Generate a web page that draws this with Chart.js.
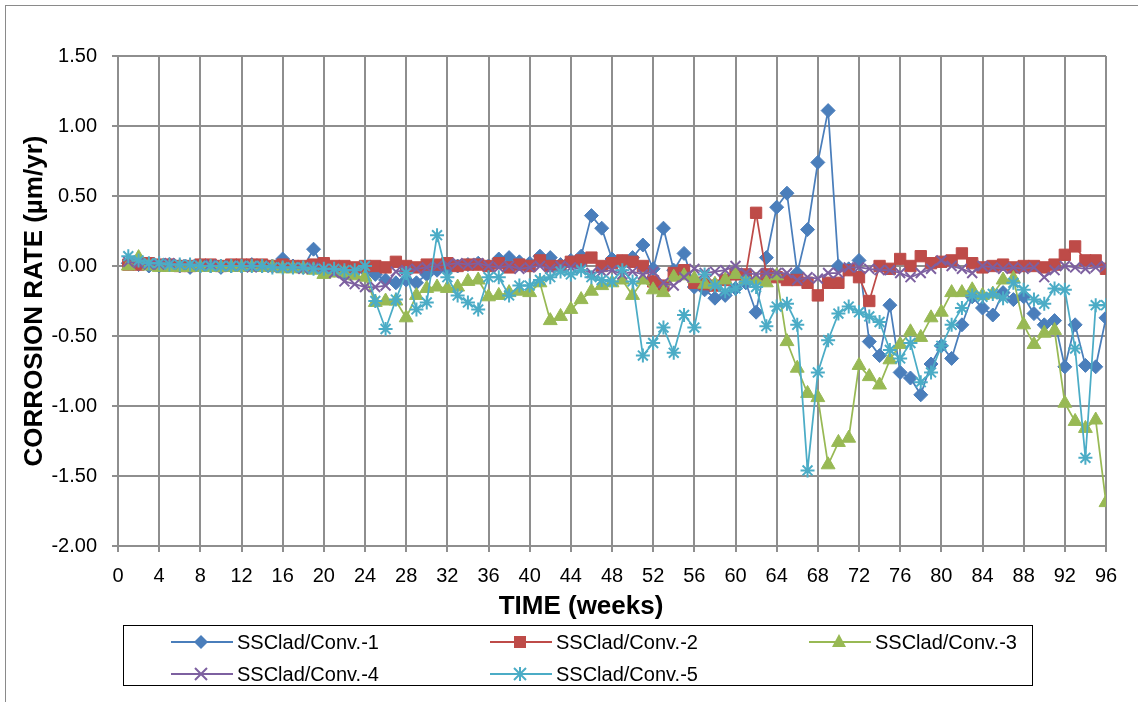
<!DOCTYPE html>
<html>
<head>
<meta charset="utf-8">
<script src="https://cdn.jsdelivr.net/npm/chart.js@4/dist/chart.umd.min.js"></script>
<style>
  body { margin: 0; background: #fff; font-family: "Liberation Sans", Arial, sans-serif; }
  #frame { position: absolute; left: 5px; top: 5px; width: 1140px; height: 720px; border: 1px solid #8a8a8a; }
  #wrap { position: absolute; left: 0; top: 0; width: 1138px; height: 702px; }
  #xtitle { position: absolute; left: 381px; width: 400px; top: 590px; text-align: center; font-size: 26px; font-weight: bold; color: #000; }
  #legend {
    position: absolute; left: 123px; top: 625px; width: 910px; height: 61px;
    border: 1.5px solid #000; box-sizing: border-box;
  }
  .item { position: absolute; display: flex; align-items: center; font-size: 20px; color: #000; height: 24px; }
  .item svg { margin-right: 4px; }
</style>
</head>
<body>
<div id="frame"></div>
<div id="wrap"><canvas id="chart" width="1138" height="702"></canvas></div>
<div id="xtitle">TIME (weeks)</div>
<div id="legend"></div>
<script>
// data (weeks, corrosion rate in um/yr)
const weeks = [1, 2, 3, 4, 5, 6, 7, 8, 9, 10, 11, 12, 13, 14, 15, 16, 17, 18, 19, 20,
  21, 22, 23, 24, 25, 26, 27, 28, 29, 30, 31, 32, 33, 34, 35, 36, 37, 38, 39, 40,
  41, 42, 43, 44, 45, 46, 47, 48, 49, 50, 51, 52, 53, 54, 55, 56, 57, 58, 59, 60,
  61, 62, 63, 64, 65, 66, 67, 68, 69, 70, 71, 72, 73, 74, 75, 76, 77, 78, 79, 80,
  81, 82, 83, 84, 85, 86, 87, 88, 89, 90, 91, 92, 93, 94, 95, 96];

const conv1 = [0.02, 0.01, 0.00, 0.00, 0.01, 0.00, -0.01, 0.00, 0.00, -0.01,
  0.00, 0.00, 0.01, 0.00, 0.00, 0.05, 0.00, -0.01, 0.12, -0.02,
  -0.03, -0.05, -0.04, -0.03, -0.06, -0.10, -0.12, -0.10, -0.12, -0.06,
  -0.03, -0.02, 0.00, 0.01, 0.02, 0.00, 0.05, 0.06, 0.03, 0.02,
  0.07, 0.06, 0.01, 0.04, 0.07, 0.36, 0.27, 0.05, 0.03, 0.06,
  0.15, -0.02, 0.27, -0.03, 0.09, -0.15, -0.17, -0.23, -0.21, -0.16,
  -0.12, -0.33, 0.06, 0.42, 0.52, -0.05, 0.26, 0.74, 1.11, 0.00,
  -0.02, 0.04, -0.54, -0.64, -0.28, -0.76, -0.80, -0.92, -0.70, -0.57,
  -0.66, -0.42, -0.22, -0.30, -0.35, -0.19, -0.24, -0.22, -0.34, -0.42,
  -0.39, -0.72, -0.42, -0.71, -0.72, -0.37];

const conv2 = [0.01, 0.01, 0.02, 0.01, 0.01, 0.00, 0.00, 0.01, 0.01, 0.00,
  0.01, 0.01, 0.01, 0.01, 0.00, 0.01, 0.00, 0.00, 0.01, 0.02,
  0.00, 0.00, -0.01, 0.00, 0.00, -0.01, 0.03, 0.00, -0.01, 0.01,
  0.01, 0.02, 0.00, 0.01, 0.01, 0.00, 0.02, -0.01, 0.01, 0.00,
  0.04, 0.00, 0.00, 0.03, 0.04, 0.06, 0.00, 0.02, 0.04, 0.03,
  0.00, -0.11, -0.14, -0.05, -0.03, -0.12, -0.13, -0.14, -0.10, -0.06,
  -0.06, 0.38, -0.06, -0.08, -0.10, -0.10, -0.12, -0.21, -0.12, -0.12,
  -0.03, -0.08, -0.25, 0.00, -0.02, 0.05, 0.00, 0.07, 0.02, 0.03,
  0.04, 0.09, 0.02, -0.01, 0.00, 0.01, -0.01, 0.00, 0.00, -0.01,
  0.01, 0.08, 0.14, 0.04, 0.04, -0.02];

const conv3 = [0.00, 0.06, 0.00, -0.01, -0.01, -0.01, -0.01, -0.01, -0.01, -0.01,
  -0.01, -0.01, -0.01, -0.01, -0.01, -0.02, -0.02, -0.02, -0.03, -0.06,
  -0.05, -0.05, -0.07, -0.08, -0.26, -0.25, -0.25, -0.37, -0.21, -0.16,
  -0.15, -0.16, -0.15, -0.11, -0.10, -0.22, -0.21, -0.19, -0.18, -0.19,
  -0.12, -0.39, -0.36, -0.31, -0.24, -0.18, -0.14, -0.12, -0.10, -0.21,
  -0.10, -0.17, -0.19, -0.08, -0.07, -0.09, -0.13, -0.13, -0.10, -0.06,
  -0.10, -0.10, -0.12, -0.07, -0.54, -0.73, -0.91, -0.94, -1.42, -1.26,
  -1.23, -0.71, -0.79, -0.85, -0.67, -0.56, -0.47, -0.51, -0.37, -0.33,
  -0.19, -0.19, -0.17, -0.21, -0.20, -0.10, -0.09, -0.42, -0.56, -0.48,
  -0.46, -0.98, -1.11, -1.16, -1.10, -1.69];

const conv4 = [0.03, 0.02, 0.01, 0.01, 0.02, 0.01, 0.01, 0.00, 0.01, 0.00,
  0.00, 0.00, -0.01, 0.00, -0.01, -0.01, -0.01, -0.02, -0.01, -0.02,
  -0.05, -0.11, -0.13, -0.15, -0.15, -0.14, -0.04, -0.03, -0.02, -0.01,
  0.00, 0.01, 0.02, 0.01, 0.02, 0.00, -0.01, 0.00, -0.02, -0.01,
  0.00, -0.02, 0.00, -0.01, -0.02, -0.05, -0.04, -0.03, -0.06, -0.04,
  -0.06, -0.04, -0.12, -0.14, -0.08, -0.02, -0.05, -0.04, -0.03, 0.00,
  -0.05, -0.06, -0.05, -0.05, -0.05, -0.10, -0.08, -0.09, -0.05, -0.05,
  -0.01, -0.01, -0.02, -0.03, -0.03, -0.05, -0.08, -0.05, -0.02, 0.04,
  0.00, -0.02, -0.05, 0.00, -0.01, -0.02, -0.01, -0.02, -0.01, -0.08,
  -0.03, 0.00, -0.01, -0.02, -0.01, 0.00];

const conv5 = [0.07, 0.04, 0.02, 0.02, 0.01, 0.01, 0.01, 0.00, 0.00, 0.00,
  0.00, 0.00, 0.00, 0.00, -0.01, -0.01, -0.01, -0.01, -0.02, -0.02,
  -0.02, -0.03, -0.03, 0.00, -0.25, -0.45, -0.24, -0.05, -0.31, -0.26,
  0.22, -0.08, -0.21, -0.26, -0.31, -0.08, -0.08, -0.21, -0.14, -0.14,
  -0.10, -0.08, -0.04, -0.06, -0.03, -0.08, -0.10, -0.11, -0.03, -0.11,
  -0.64, -0.55, -0.44, -0.62, -0.35, -0.44, -0.06, -0.14, -0.18, -0.16,
  -0.11, -0.15, -0.43, -0.29, -0.27, -0.42, -1.46, -0.76, -0.53, -0.34,
  -0.29, -0.33, -0.36, -0.40, -0.60, -0.66, -0.55, -0.83, -0.76, -0.57,
  -0.42, -0.30, -0.21, -0.22, -0.20, -0.23, -0.12, -0.17, -0.24, -0.27,
  -0.16, -0.17, -0.59, -1.37, -0.28, -0.28];

const names = ["SSClad/Conv.-1", "SSClad/Conv.-2", "SSClad/Conv.-3", "SSClad/Conv.-4", "SSClad/Conv.-5"];
const colors = ["#4A7EBB", "#BE4B48", "#98B954", "#7D60A0", "#4BACC6"];
const styles = ["rectRot", "rect", "triangle", "crossRot", "star"];
const radii = [7, 8, 8, 7, 7];
const series = [conv1, conv2, conv3, conv4, conv5];

const font = "'Liberation Sans', Arial, sans-serif";

let datasets = [];
for (let i = 0; i < series.length; i++) {
  datasets.push({
    label: names[i],
    data: weeks.map((w, j) => ({ x: w, y: series[i][j] })),
    borderColor: colors[i],
    backgroundColor: colors[i],
    pointBackgroundColor: colors[i],
    pointBorderColor: colors[i],
    borderWidth: 1.75,
    pointStyle: styles[i],
    pointRadius: radii[i],
    pointBorderWidth: (i >= 3) ? 2 : 1,
    tension: 0,
    order: 5 - i
  });
}

new Chart(document.getElementById("chart"), {
  type: "line",
  data: { datasets: datasets },
  options: {
    responsive: false,
    animation: false,
    layout: { padding: { left: 15, right: 32, top: 56, bottom: 79 } },
    plugins: { legend: { display: false }, tooltip: { enabled: false } },
    scales: {
      x: {
        type: "linear", min: 0, max: 96,
        ticks: { stepSize: 4, color: "#000", font: { family: font, size: 20 }, padding: 12, maxRotation: 0, autoSkip: false },
        grid: { color: "#8e8e8e", lineWidth: 2, tickLength: 6 },
        border: { color: "#8e8e8e", width: 2 },
        afterFit: function (s) { s.height = 77; }
      },
      y: {
        min: -2, max: 1.5,
        ticks: { stepSize: 0.5, color: "#000", font: { family: font, size: 20 }, padding: 15, callback: v => v.toFixed(2) },
        grid: { color: "#8e8e8e", lineWidth: 2, tickLength: 6 },
        border: { color: "#8e8e8e", width: 2 },
        title: { display: true, text: "CORROSION RATE (µm/yr)", color: "#000", font: { family: font, size: 26, weight: "bold" }, padding: { top: 4, bottom: 0 } },
        afterFit: function (s) { s.width = 103; }
      }
    }
  }
});

// legend (3 columns, boxed)
function marker(i) {
  const c = colors[i];
  let m = "";
  if (i === 0) m = "<polygon points='30,3 37,10 30,17 23,10' fill='" + c + "'/>";
  if (i === 1) m = "<rect x='24' y='4' width='12' height='12' fill='" + c + "'/>";
  if (i === 2) m = "<polygon points='30,2 37,15 23,15' fill='" + c + "'/>";
  if (i === 3) m = "<path d='M24,4 L36,16 M36,4 L24,16' stroke='" + c + "' stroke-width='2'/>";
  if (i === 4) m = "<path d='M30,3 L30,17 M24,4 L36,16 M36,4 L24,16' stroke='" + c + "' stroke-width='2'/>";
  return "<svg width='62' height='20'><line x1='0' y1='10' x2='62' y2='10' stroke='" + c + "' stroke-width='2'/>" + m + "</svg>";
}

const legend = document.getElementById("legend");
const colX = [47, 366, 685];
const rowY = [4, 36];
for (let i = 0; i < names.length; i++) {
  let div = document.createElement("div");
  div.className = "item";
  div.style.left = colX[i % 3] + "px";
  div.style.top = rowY[Math.floor(i / 3)] + "px";
  div.innerHTML = marker(i) + "<span>" + names[i] + "</span>";
  legend.appendChild(div);
}
</script>
</body>
</html>
